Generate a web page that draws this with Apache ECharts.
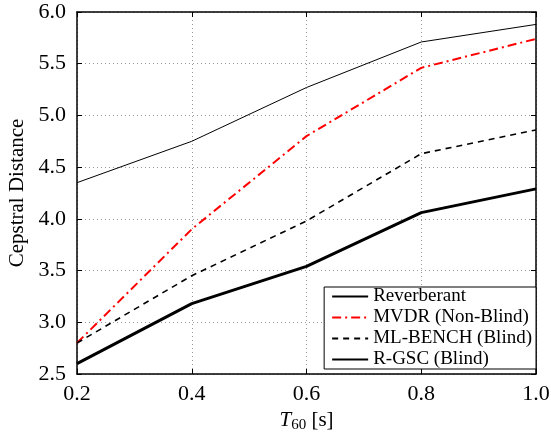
<!DOCTYPE html>
<html lang="en">
<head>
  <meta charset="UTF-8">
  <title>Cepstral Distance</title>
  <script src="https://cdn.jsdelivr.net/npm/echarts@6/dist/echarts.min.js"></script>
</head>
<body style="margin:0">
  <div id="app" style="width: 551px; height: 433px;"></div>
  <script>
    var t60 = [0.2, 0.4, 0.6, 0.8, 1.0]
    var reverberant = [4.35, 4.75, 5.27, 5.71, 5.88]
    var mvdr = [2.80, 3.90, 4.80, 5.46, 5.74]
    var mlBench = [2.80, 3.45, 3.98, 4.63, 4.86]
    var rGsc = [2.60, 3.18, 3.54, 4.06, 4.29]

    var serif = 'Liberation Serif'

    function pairs(ys) {
      var out = []
      for (var i = 0; i < t60.length; i++) out.push([t60[i], ys[i]])
      return out
    }

    var gridLine = { show: true, lineStyle: { color: '#999', type: [1, 3], width: 1 } }
    var frame = { show: true, onZero: false, lineStyle: { color: '#000', width: 1.5 } }
    var ticks = { show: true, inside: true, length: 5, lineStyle: { color: '#000' } }

    var mCharts = echarts.init(document.querySelector('#app'))
    var option = {
      animation: false,
      grid: { left: 77, right: 15, top: 12, bottom: 59, containLabel: false, outerBoundsMode: 'none' },
      xAxis: [{
        type: 'value', min: 0.2, max: 1.0, interval: 0.2,
        axisLine: frame, axisTick: ticks, splitLine: gridLine,
        axisLabel: { color: '#000', fontFamily: serif, fontSize: 22, margin: 9,
          formatter: function (v) { return v.toFixed(1) } },
        name: '{i|T}{s|60} [s]', nameLocation: 'middle', nameGap: 34,
        nameTextStyle: {
          color: '#000', fontFamily: serif, fontSize: 21,
          rich: {
            i: { fontFamily: serif, fontStyle: 'italic', fontSize: 21, color: '#000' },
            s: { fontFamily: serif, fontSize: 15, color: '#000', verticalAlign: 'bottom', padding: [9, 0, 0, 0] }
          }
        }
      }, {
        type: 'value', position: 'top', min: 0.2, max: 1.0, interval: 0.2,
        axisLine: frame, axisTick: ticks, splitLine: { show: false }, axisLabel: { show: false }
      }],
      yAxis: [{
        type: 'value', min: 2.5, max: 6.0, interval: 0.5,
        axisLine: frame, axisTick: ticks, splitLine: gridLine,
        axisLabel: { color: '#000', fontFamily: serif, fontSize: 22, margin: 11,
          formatter: function (v) { return v.toFixed(1) } },
        name: 'Cepstral Distance', nameLocation: 'middle', nameGap: 42,
        nameTextStyle: { color: '#000', fontFamily: serif, fontSize: 21 }
      }, {
        type: 'value', position: 'right', min: 2.5, max: 6.0, interval: 0.5,
        axisLine: frame, axisTick: ticks, splitLine: { show: false }, axisLabel: { show: false }
      }],
      legend: {
        right: 15, bottom: 64, orient: 'vertical',
        itemWidth: 36, itemHeight: 10, itemGap: 2,
        padding: [0, 4, 0, 7],
        backgroundColor: '#fff', borderColor: '#000', borderWidth: 1, borderRadius: 0,
        itemStyle: { color: 'transparent', borderWidth: 0 },
        textStyle: { color: '#000', fontFamily: serif, fontSize: 19, lineHeight: 18, padding: [0, 0, 0, 0] },
        data: ['Reverberant', 'MVDR (Non-Blind)', 'ML-BENCH (Blind)', 'R-GSC (Blind)']
      },
      series: [
        { name: 'Reverberant', type: 'line', symbol: 'none', data: pairs(reverberant),
          lineStyle: { color: '#000', width: 1 }, itemStyle: { color: '#000' } },
        { name: 'MVDR (Non-Blind)', type: 'line', symbol: 'none', data: pairs(mvdr),
          lineStyle: { color: '#ff0000', width: 2, type: [9, 4, 2, 4] }, itemStyle: { color: '#ff0000' } },
        { name: 'ML-BENCH (Blind)', type: 'line', symbol: 'none', data: pairs(mlBench),
          lineStyle: { color: '#000', width: 1.6, type: [6, 5] }, itemStyle: { color: '#000' } },
        { name: 'R-GSC (Blind)', type: 'line', symbol: 'none', data: pairs(rGsc),
          lineStyle: { color: '#000', width: 3 }, itemStyle: { color: '#000' } }
      ]
    }
    mCharts.setOption(option)
  </script>
</body>
</html>
